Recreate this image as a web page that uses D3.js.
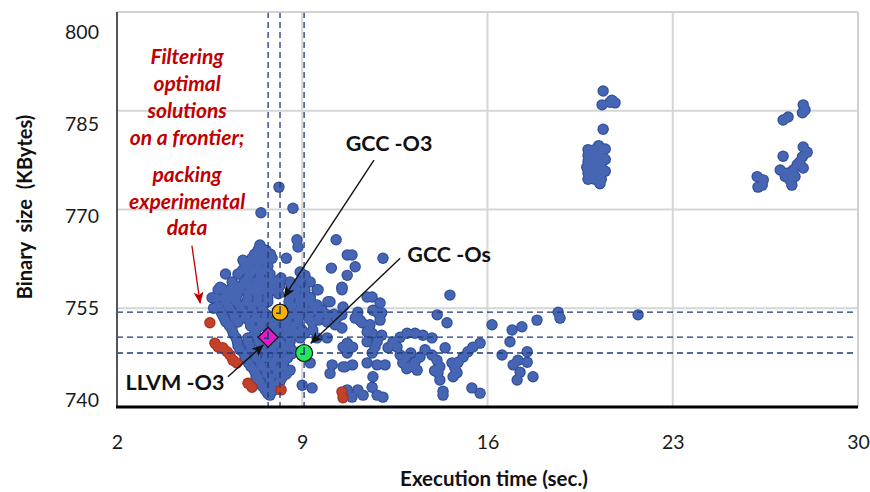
<!DOCTYPE html>
<html>
<head>
<meta charset="utf-8">
<script src="https://cdn.jsdelivr.net/npm/d3@7"></script>
<style>
  body { margin: 0; background: #fff; }
  svg { display: block; font-family: Lato, "Open Sans", sans-serif; }
</style>
</head>
<body>
<svg id="chart" width="870" height="492"></svg>
<script>
// Ticks
const xTicks = [2, 9, 16, 23, 30];
const yTicks = [740, 755, 770, 785, 800];

// Main dense cloud around 6-9 s
const mainCloud = [
  [7.33,763.8],[7.63,763.8],
  [7.1,762.6],[7.48,762.6],[7.86,762.6],
  [6.95,761.4],[7.33,761.4],[7.7,761.4],
  [6.57,760.2],[7.02,760.2],[7.4,760.2],[7.78,760.2],
  [6.35,759.0],[6.8,759.0],[7.25,759.0],[7.63,759.0],[8.0,759.0],[8.54,759.0],
  [5.82,757.8],[6.27,757.8],[6.65,757.8],[7.1,757.8],[7.48,757.8],[7.86,757.8],[8.76,757.8],
  [5.59,756.6],[6.04,756.6],[6.5,756.6],[6.95,756.6],[7.33,756.6],[7.7,756.6],[8.54,756.6],[8.92,756.6],[9.3,756.6],
  [5.82,755.3],[6.2,755.3],[6.65,755.3],[7.1,755.3],[7.48,755.3],[8.61,755.3],[9.07,755.3],[9.52,755.3],
  [5.97,754.1],[6.42,754.1],[6.88,754.1],[7.25,754.1],[7.63,754.1],[8.61,754.1],[9.14,754.1],[9.67,754.1],[10.2,754.1],
  [6.12,752.9],[6.57,752.9],[7.02,752.9],[7.48,752.9],[7.93,752.9],[8.39,752.9],[8.84,752.9],[9.37,752.9],
  [6.35,751.7],[7.25,751.7],[8.08,751.7],[8.54,751.7],[8.99,751.7],
  [6.5,750.5],[6.95,750.5],[7.33,750.5],[8.08,750.5],[8.54,750.5],
  [6.57,749.3],[7.02,749.3],[7.48,749.3],[7.93,749.3],[8.39,749.3],
  [6.8,748.1],[7.25,748.1],[7.7,748.1],[8.16,748.1],[8.61,748.1],
  [6.95,746.8],[7.4,746.8],[7.86,746.8],[8.31,746.8],
  [7.18,745.6],[7.63,745.6],[8.08,745.6],[8.54,745.6],
  [7.33,744.4],[7.78,744.4],[8.23,744.4],
  [7.48,743.2],[7.93,743.2],
  [7.7,742.0],[7.86,743.3],[7.78,741.8],[7.25,744.4],
  // in-between rows
  [7.2,763.2],[7.5,763.2],[7.8,763.2],
  [7.0,762.0],[7.3,762.0],[7.65,762.0],
  [6.75,760.8],[7.15,760.8],[7.55,760.8],
  [6.95,759.6],[7.4,759.6],[7.8,759.6],[8.2,759.6],
  [6.5,758.4],[6.95,758.4],[7.35,758.4],[7.75,758.4],[8.15,758.4],[8.6,758.4],
  [6.15,757.2],[6.55,757.2],[6.95,757.2],[7.3,757.2],[7.7,757.2],[8.1,757.2],[8.7,757.2],[9.1,757.2],
  [6.1,756.0],[6.5,756.0],[6.9,756.0],[7.3,756.0],[7.7,756.0],[8.5,756.0],[8.9,756.0],[9.3,756.0],
  [5.9,754.7],[6.3,754.7],[6.7,754.7],[7.1,754.7],[7.5,754.7],[8.4,754.7],[8.9,754.7],[9.4,754.7],
  [6.05,753.5],[6.45,753.5],[6.85,753.5],[7.25,753.5],[7.65,753.5],[8.05,753.5],[8.45,753.5],[8.85,753.5],[9.25,753.5],
  [6.25,752.3],[7.05,752.3],[7.45,752.3],[7.85,752.3],[8.25,752.3],[8.65,752.3],
  [6.4,751.1],[7.2,751.1],[8.0,751.1],[8.4,751.1],[8.75,751.1],
  [6.55,749.9],[6.95,749.9],[7.35,749.9],[8.15,749.9],
  [6.65,748.7],[7.05,748.7],[7.45,748.7],[7.85,748.7],[8.25,748.7],[8.6,748.7],
  [6.85,747.5],[7.25,747.5],[7.65,747.5],[8.05,747.5],[8.45,747.5],
  [7.05,746.2],[7.45,746.2],[7.85,746.2],[8.25,746.2],
  [7.25,745.0],[7.65,745.0],[8.05,745.0],[8.4,745.0],
  [7.4,743.8],[7.8,743.8],[8.15,743.8],
  [7.6,742.6],[7.95,742.6],
  // loose points around the cloud
  [8.12,773.4],[7.44,769.5],[8.65,770.2],[10.28,765.4],[8.8,765.4],[8.84,764.3],
  [10.7,763.1],[10.1,761.1],[10.7,760.0],[9.56,757.8],[9.97,756.0],[10.5,757.8],
  [7.4,764.6],[6.8,762.0],[6.1,760.2],[5.97,758.0],[6.27,756.6],[8.4,762.6],[6.76,762.3],
  [5.9,758.2],[5.75,756.5],[6.05,756.5],[5.65,755.0],
  [8.92,760.5],[9.1,760.0],[9.3,759.0],[8.92,759.0],[9.1,757.8],[9.3,756.6],
  [9.56,755.5],[9.75,754.7],[9.97,754.0],[10.3,753.5],[10.5,754.0],
  [8.54,749.9],[8.92,750.5],[8.65,751.4],[8.43,752.0],[9.1,751.2],[9.4,751.7],
  [9.0,743.3],[9.37,742.9],[10.13,746.4],[10.62,746.1],[10.05,745.1],[9.3,746.7]
];

// Spread of runs between 9 and 22 s
const midCloud = [
  [10.88,763.1],[11.0,761.3],[12.05,762.6],[10.5,758.2],[11.45,756.7],[11.67,754.7],
  [9.6,757.8],[10.5,758.1],[9.18,756.0],[10.05,756.0],[10.54,755.2],[11.64,756.7],
  [11.94,755.8],[12.0,754.3],[11.1,754.4],[14.58,757.0],[14.1,754.0],[14.47,752.8],
  [9.3,754.3],[9.6,753.2],[9.94,752.9],[10.24,752.5],[10.5,752.0],
  [11.0,753.5],[11.18,753.2],[11.49,751.7],[11.86,754.3],[11.94,753.2],
  [11.26,752.8],[11.56,752.5],[11.45,751.4],[11.64,751.2],
  [9.94,750.5],[9.56,750.5],[10.7,749.7],[10.9,749.1],
  [11.45,749.9],[11.83,749.9],[12.0,750.9],
  [12.43,749.9],[12.7,750.6],[12.96,751.2],[13.26,751.2],[13.56,750.9],[13.9,750.5],
  [12.24,749.0],[12.58,749.1],[12.7,747.9],[12.8,746.7],[13.07,746.1],[13.26,746.8],
  [13.45,747.6],[13.34,745.6],[12.9,747.5],[13.1,748.2],[12.95,745.8],
  [13.64,748.7],[13.9,747.9],[14.09,747.1],[14.2,746.1],[14.13,745.2],[14.2,744.1],[14.0,745.5],
  [14.4,749.0],
  [14.66,746.7],[14.77,745.9],[14.89,746.8],[15.08,747.6],[15.26,748.4],[15.45,749.1],
  [15.72,749.7],[14.7,744.6],[14.85,745.2],
  [14.32,741.8],[14.32,742.4],[15.41,742.9],[15.72,742.1],
  [11.45,746.7],[11.83,746.4],[12.13,746.4],[11.64,748.2],[11.75,749.1],
  [11.67,744.6],[11.64,743.0],[11.83,741.8],[12.05,741.5],
  [11.1,742.6],[11.3,741.8],[10.88,741.5],[10.7,742.6],
  [10.54,746.1],[10.9,746.4],[10.7,748.2],[10.54,749.1],
  [16.93,751.7],[16.85,749.9],[17.3,752.2],[17.87,753.2],[16.17,752.5],
  [16.55,747.9],[16.97,746.4],[17.15,747.1],[17.5,748.4],[17.5,746.8],
  [17.23,745.3],[17.12,744.1],[17.72,744.6],
  [18.67,754.4],[18.74,753.5],[21.69,754.0]
];

// Slow runs near 20 s
const cluster20 = [
  [20.37,788.0],[20.33,785.9],[20.63,786.3],[20.82,786.2],[20.7,786.6],[20.37,782.2],
  [20.2,779.7],[20.45,779.2],
  [19.8,779.1],[20.05,779.1],[20.3,779.1],
  [19.8,778.2],[20.05,778.2],[20.3,778.2],[20.45,777.6],
  [19.8,777.3],[20.05,777.3],[20.3,777.3],
  [19.75,776.4],[20.05,776.4],[20.3,776.4],[20.45,775.8],
  [19.8,775.5],[20.05,775.5],[20.3,775.5],
  [19.8,774.6],[20.05,774.6],[20.3,774.6],
  [20.25,773.9]
];

// Slow runs near 27 s
const cluster27 = [
  [27.93,785.9],[28.0,785.1],[27.9,784.7],[27.17,783.6],[27.36,784.05],[27.17,778.1],
  [27.93,779.5],[28.08,778.7],[27.9,778.0],[27.8,777.2],
  [27.06,776.0],[27.32,775.5],[27.55,776.0],[27.7,776.8],[27.43,774.5],
  [27.25,775.0],[27.62,775.0],[27.93,776.3],[27.5,773.7],
  [26.19,775.0],[26.38,773.7],[26.42,774.5],[26.22,773.4]
];

// Pareto frontier (red)
const frontier = [
  [5.51,752.8],[5.7,749.7],[5.82,749.1],[6.0,749.0],[6.16,748.4],[6.27,747.9],
  [6.38,747.1],[6.53,746.7],[6.95,743.6],[7.1,743.0],[8.2,742.6],[10.5,742.3],[10.54,741.4]
];

// Reference compilers
const compilerNames = ["GCC -O3", "LLVM -O3", "GCC -Os"];
const compilerTime = [8.16, 7.71, 9.07];
const compilerSize = [754.4, 750.6, 748.2];

// Chart frame
const W = 870, H = 492;
const margin = { top: 12, right: 12, bottom: 85, left: 117 };

const svg = d3.select("#chart");

const x = d3.scaleLinear().domain([2, 30]).range([margin.left, W - margin.right]);
const y = d3.scaleLinear().domain([740, 800]).range([H - margin.bottom, margin.top]);
// the value labels sit a bit off the grid lines in the original
const yLabel = d3.scaleLinear().domain([740, 800]).range([400, 32]);

// arrow heads
const defs = svg.append("defs");
[["arrowBlack", "#111"], ["arrowRed", "#c00000"]].forEach(([id, col]) => {
  defs.append("marker")
    .attr("id", id)
    .attr("viewBox", "0 0 12 10")
    .attr("refX", 11).attr("refY", 5)
    .attr("markerWidth", 12).attr("markerHeight", 10)
    .attr("markerUnits", "userSpaceOnUse")
    .attr("orient", "auto")
    .append("path")
    .attr("d", "M0,0 L12,5 L0,10 L3,5 z")
    .attr("fill", col);
});

// Grid
const grid = svg.append("g").attr("class", "grid");
grid.selectAll(".vgrid")
  .data(xTicks.slice(1))
  .enter().append("line")
  .attr("x1", d => x(d)).attr("x2", d => x(d))
  .attr("y1", y(800)).attr("y2", y(740))
  .attr("stroke", "#d6d6d6").attr("stroke-width", 2);
grid.selectAll(".hgrid")
  .data(yTicks.slice(1))
  .enter().append("line")
  .attr("x1", x(2)).attr("x2", x(30))
  .attr("y1", d => y(d)).attr("y2", d => y(d))
  .attr("stroke", "#d6d6d6").attr("stroke-width", 2);

// Points: outline layer first, then fill layer, so overlapping dots merge
function drawPoints(pts, stroke, fill) {
  const g = svg.append("g");
  g.selectAll(".o").data(pts).enter().append("circle")
    .attr("cx", d => x(d[0])).attr("cy", d => y(d[1]))
    .attr("r", 5.7).attr("fill", stroke);
  g.selectAll(".f").data(pts).enter().append("circle")
    .attr("cx", d => x(d[0])).attr("cy", d => y(d[1]))
    .attr("r", 4.6).attr("fill", fill);
}
drawPoints(mainCloud.concat(midCloud, cluster20, cluster27), "#2f4c98", "#4666b4");
drawPoints(frontier, "#a4301e", "#c2412b");

// Dashed reference lines through compiler results
const dash = svg.append("g").attr("class", "dash");
dash.selectAll(".vd").data(compilerTime).enter().append("line")
  .attr("x1", d => x(d)).attr("x2", d => x(d))
  .attr("y1", y(800)).attr("y2", y(740))
  .attr("stroke", "#1f3a78").attr("stroke-width", 1.3).attr("stroke-dasharray", "6,4");
dash.selectAll(".hd").data(compilerSize).enter().append("line")
  .attr("x1", x(2)).attr("x2", x(30))
  .attr("y1", d => y(d)).attr("y2", d => y(d))
  .attr("stroke", "#1f3a78").attr("stroke-width", 1.3).attr("stroke-dasharray", "6,4");

// Frame / axes lines
svg.append("line").attr("x1", x(2)).attr("x2", x(30)).attr("y1", y(800)).attr("y2", y(800))
  .attr("stroke", "#d0d0d0").attr("stroke-width", 1.5);
svg.append("line").attr("x1", x(30)).attr("x2", x(30)).attr("y1", y(800)).attr("y2", y(740))
  .attr("stroke", "#d0d0d0").attr("stroke-width", 2);
svg.append("line").attr("x1", x(2)).attr("x2", x(2)).attr("y1", y(800)).attr("y2", y(740))
  .attr("stroke", "#555").attr("stroke-width", 2);
svg.append("line").attr("x1", x(2) - 1).attr("x2", x(30)).attr("y1", y(740)).attr("y2", y(740))
  .attr("stroke", "#000").attr("stroke-width", 3);

// Compiler markers
const markerColors = ["#f7b100", "#e21bc6", "#1fe85a"];
const mk = svg.append("g").attr("class", "compilers");
compilerNames.forEach((name, i) => {
  const cx = x(compilerTime[i]), cy = y(compilerSize[i]);
  if (name === "LLVM -O3") {
    mk.append("path")
      .attr("d", `M${cx},${cy - 10}L${cx + 10},${cy}L${cx},${cy + 10}L${cx - 10},${cy}Z`)
      .attr("fill", markerColors[i]).attr("stroke", "#111").attr("stroke-width", 1.2);
  } else {
    mk.append("circle")
      .attr("cx", cx).attr("cy", cy)
      .attr("r", name === "GCC -Os" ? 8.5 : 8)
      .attr("fill", markerColors[i]).attr("stroke", "#111").attr("stroke-width", 1.2);
  }
  mk.append("path")
    .attr("d", `M${cx},${cy - 6}V${cy + 2}M${cx - 4},${cy + 1}H${cx}`)
    .attr("stroke", "#1f3a78").attr("stroke-width", 1.5).attr("fill", "none");
});

// Axes tick labels
const xAxis = svg.append("g")
  .attr("transform", `translate(0,${y(740)})`)
  .call(d3.axisBottom(x).tickValues(xTicks).tickSize(0).tickPadding(28).tickFormat(d3.format("d")));
const yAxis = svg.append("g")
  .attr("transform", "translate(99,0)")
  .call(d3.axisLeft(yLabel).tickValues(yTicks).tickSize(0).tickPadding(0).tickFormat(d3.format("d")));
[xAxis, yAxis].forEach(a => {
  a.select(".domain").remove();
  a.selectAll("text")
    .style("font-family", "Lato, 'Open Sans', sans-serif")
    .style("font-size", "19.5px")
    .attr("fill", "#1a1a1a");
});

// Axis titles
svg.append("text")
  .attr("x", 494).attr("y", 479).attr("dy", "0.35em")
  .attr("text-anchor", "middle")
  .style("font-size", "20.5px").style("font-weight", "bold")
  .attr("fill", "#111")
  .text("Execution time (sec.)");
svg.append("text")
  .attr("transform", "translate(25,207) rotate(-90)")
  .attr("dy", "0.35em")
  .attr("text-anchor", "middle")
  .style("font-size", "20px").style("font-weight", "bold")
  .style("white-space", "pre")
  .attr("fill", "#111")
  .text("Binary  size  (KBytes)");

// Compiler annotations with arrows (positions in data units)
const annotations = [
  { text: "GCC -O3", lx: 12.28, ly: 780.1, from: [11.71, 777.5], to: [8.31, 756.7] },
  { text: "GCC -Os", lx: 14.55, ly: 763.1, from: [12.7, 762.6], to: [9.33, 749.7] },
  { text: "LLVM -O3", lx: 4.19, ly: 743.8, from: [6.19, 744.6], to: [7.52, 749.4] }
];
const ann = svg.append("g").attr("class", "annotations");
ann.selectAll("line").data(annotations).enter().append("line")
  .attr("x1", d => x(d.from[0])).attr("y1", d => y(d.from[1]))
  .attr("x2", d => x(d.to[0])).attr("y2", d => y(d.to[1]))
  .attr("stroke", "#111").attr("stroke-width", 1.4)
  .attr("marker-end", "url(#arrowBlack)");
ann.selectAll("text").data(annotations).enter().append("text")
  .attr("x", d => x(d.lx)).attr("y", d => y(d.ly)).attr("dy", "0.35em")
  .attr("text-anchor", "middle")
  .style("font-size", "21.5px").style("font-weight", "bold")
  .attr("fill", "#111")
  .text(d => d.text);

// Red note on the frontier
const noteLines = ["Filtering", "optimal", "solutions", "on a frontier;", "packing", "experimental", "data"];
const noteOffsets = [0, 27, 54, 81, 118, 145, 171];
const note = svg.append("g").attr("class", "note");
note.selectAll("text").data(noteLines).enter().append("text")
  .attr("x", x(4.65))
  .attr("y", (d, i) => 57 + noteOffsets[i])
  .attr("dy", "0.35em")
  .attr("text-anchor", "middle")
  .style("font-size", "21px").style("font-weight", "bold").style("font-style", "italic")
  .attr("fill", "#c00000")
  .text(d => d);
note.append("line")
  .attr("x1", x(4.83)).attr("y1", y(764.5))
  .attr("x2", x(5.14)).attr("y2", y(755.8))
  .attr("stroke", "#c00000").attr("stroke-width", 1.3)
  .attr("marker-end", "url(#arrowRed)");
</script>
</body>
</html>
